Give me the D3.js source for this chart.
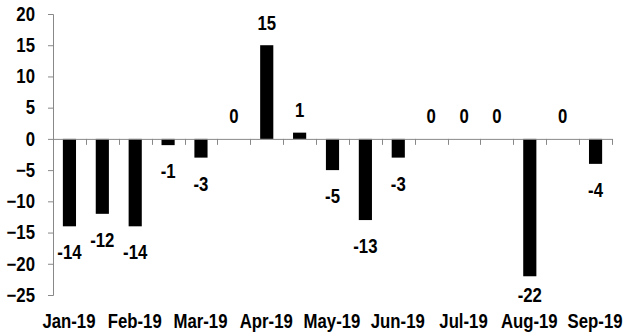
<!DOCTYPE html>
<html>
<head>
<meta charset="utf-8">
<script src="https://cdn.jsdelivr.net/npm/d3@7"></script>
<style>
  html, body { margin: 0; padding: 0; background: #fff; }
  svg { display: block; }
  text { font-family: "Liberation Sans", Arial, sans-serif; font-weight: bold; fill: #000; }
</style>
</head>
<body>
<svg id="chart" width="624" height="334"></svg>
<script>
// Semi-monthly periods (one bar each)
const categories = ["01-Jan-19","15-Jan-19","01-Feb-19","15-Feb-19","01-Mar-19","15-Mar-19",
  "01-Apr-19","15-Apr-19","01-May-19","15-May-19","01-Jun-19","15-Jun-19",
  "01-Jul-19","15-Jul-19","01-Aug-19","15-Aug-19","01-Sep-19"];
const values = [-14, -12, -14, -1, -3, 0, 15, 1, -5, -13, -3, 0, 0, 0, -22, 0, -4];
// Tick labels shown on every other period
const tickCategories = ["01-Jan-19","01-Feb-19","01-Mar-19","01-Apr-19","01-May-19","01-Jun-19","01-Jul-19","01-Aug-19","01-Sep-19"];
const tickLabels = ["Jan-19","Feb-19","Mar-19","Apr-19","May-19","Jun-19","Jul-19","Aug-19","Sep-19"];
const yTicks = [20, 15, 10, 5, 0, -5, -10, -15, -20, -25];

(function () {
const svg = d3.select("#chart");
const mLeft = 53, mRight = 612, mTop = 14, mBottom = 295;
const axisColor = "#888888";
const fontSize = "19.5px";
const squeeze = 0.86;

const x = d3.scaleBand().domain(categories).range([mLeft, mRight]).paddingInner(0.6).paddingOuter(0.3);
const y = d3.scaleLinear().domain([-25, 20]).range([mBottom, mTop]);

// Y axis
const yAxis = svg.append("g").attr("transform", `translate(${mLeft},0)`)
  .call(d3.axisLeft(y).tickValues(yTicks).tickSize(5).tickPadding(13).tickFormat(d3.format("d")));
yAxis.attr("font-family", null).attr("font-size", null);
yAxis.select(".domain").attr("stroke", axisColor).attr("d", `M-5,${y(20)+0.5}H0.5V${y(-25)+0.5}H-5`);
yAxis.selectAll(".tick line").attr("stroke", axisColor);
yAxis.selectAll(".tick text").style("font-size", fontSize).attr("fill", "#000")
  .each(function () {
    const t = d3.select(this);
    const tx = +t.attr("x");
    t.attr("x", 0).attr("transform", `translate(${tx},0) scale(${squeeze},1)`);
  });

// Bars
svg.append("g").selectAll("rect").data(values).join("rect")
  .attr("x", (d, i) => x(categories[i]))
  .attr("width", x.bandwidth())
  .attr("y", d => y(Math.max(0, d)))
  .attr("height", d => Math.abs(y(d) - y(0)))
  .attr("fill", "#000");

// X axis line at zero with tick marks at band boundaries
const step = x.step();
const boundaries = d3.range(categories.length + 1).map(i => mLeft + i * step);
const xg = svg.append("g");
xg.append("line").attr("x1", mLeft).attr("x2", mRight).attr("y1", y(0) + 0.5).attr("y2", y(0) + 0.5)
  .attr("stroke", axisColor);
xg.selectAll("line.t").data(boundaries).join("line").attr("class", "t")
  .attr("x1", d => Math.round(d) + 0.5).attr("x2", d => Math.round(d) + 0.5)
  .attr("y1", y(0)).attr("y2", y(0) + 6).attr("stroke", axisColor);

// Category labels
svg.append("g").selectAll("text").data(tickCategories).join("text")
  .attr("transform", d => `translate(${x(d) + x.bandwidth() / 2 - 0.5},328) scale(${squeeze},1)`)
  .attr("text-anchor", "middle")
  .style("font-size", fontSize)
  .text((d, i) => tickLabels[i]);

// Data labels
svg.append("g").selectAll("text").data(values).join("text")
  .attr("transform", (d, i) => {
    const px = x(categories[i]) + x.bandwidth() / 2;
    const py = d >= 0 ? y(d) - 15.5 : Math.min(y(d) + 33, y(-25) + 6.5);
    return `translate(${px},${py}) scale(${squeeze},1)`;
  })
  .attr("text-anchor", "middle")
  .style("font-size", fontSize)
  .text(d => d);
})();
</script>
</body>
</html>
